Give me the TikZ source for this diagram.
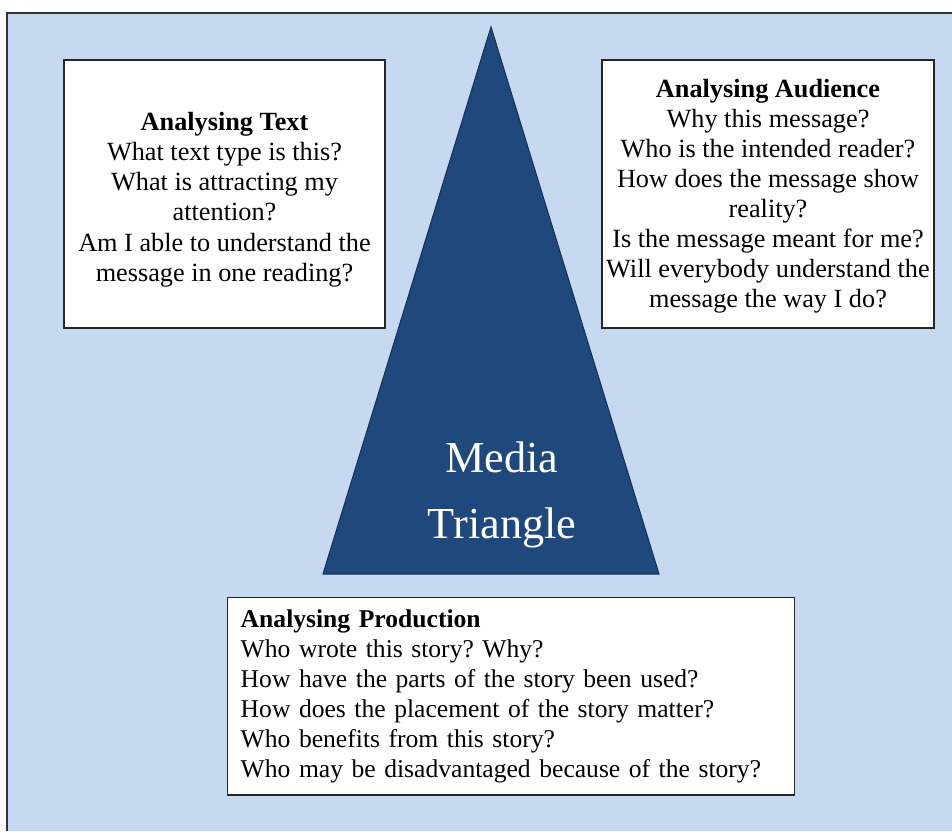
\documentclass[tikz,border=0pt]{standalone}
\usepackage{fontspec}
\setmainfont{Liberation Serif}
\usepackage{tikz}
\frenchspacing

\definecolor{paleblue}{RGB}{198,217,241}
\definecolor{trinavy}{RGB}{31,73,125}

\tikzset{
  qbox/.style={draw=black!85, line width=1.1pt, fill=white, inner sep=0pt,
    font=\fontsize{19.7}{22.6}\selectfont},
  sidebox/.style={qbox, align=center, minimum height=201pt}
}

\begin{document}
\begin{tikzpicture}[x=0.75pt, y=-0.75pt]
  \useasboundingbox (0,0) rectangle (952,831);
  % panel behind everything
  \fill[paleblue] (7,13) rectangle (952,831);
  \draw[line width=1.2pt, black!80] (7,831) -- (7,13) -- (952,13);
  % the triangle
  \coordinate (apex) at (491,27);
  \coordinate (baseL) at (323,574);
  \coordinate (baseR) at (659,574);
  \filldraw[fill=trinavy, draw=trinavy!70!black, line width=0.8pt] (apex) -- (baseR) -- (baseL) -- cycle;
  \node[text=white, align=center, font=\fontsize{33.2}{49.5}\selectfont] (tri) at (502,495) {Media\\Triangle};
  % question boxes
  \node[sidebox, minimum width=240.75pt] (text) at (224.5,194)
    {\rule{0pt}{22pt}\textbf{Analysing Text}\\What text type is this?\\What is attracting my\\attention?\\Am I able to understand the\\message in one reading?};
  \node[sidebox, minimum width=249pt] (audience) at (768,194)
    {\rule{0pt}{17pt}\textbf{Analysing Audience}\\Why this message?\\Who is the intended reader?\\How does the message show\\reality?\\Is the message meant for me?\\Will everybody understand the\\message the way I do?};
  \node[qbox, anchor=north west, align=left, text width=405.75pt, inner xsep=9.75pt,
    minimum width=425.25pt, minimum height=148pt, font=\fontsize{19.2}{22.4}\selectfont] (production) at (227,597)
    {\textbf{Analysing Production}\\Who wrote this story? Why?\\How have the parts of the story been used?\\How does the placement of the story matter?\\Who benefits from this story?\\Who may be disadvantaged because of the story?};
\end{tikzpicture}
\end{document}
